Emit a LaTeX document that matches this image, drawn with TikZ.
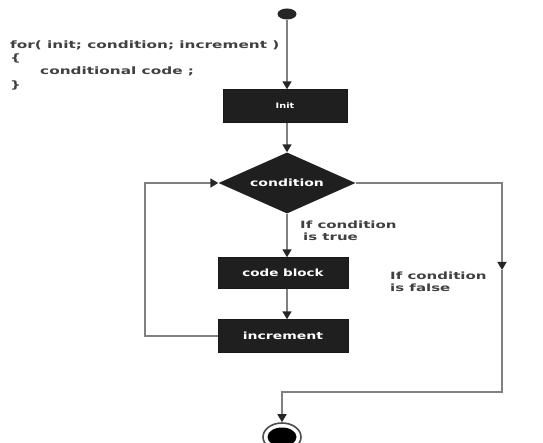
\documentclass[tikz,border=0pt]{standalone}
\usepackage{fontspec}
\setmainfont{DejaVu Sans}
\usetikzlibrary{shapes.geometric,arrows.meta}
\newcommand\wtxt[2][1.45]{\scalebox{#1}[1]{#2}}
\begin{document}
\begin{tikzpicture}[x=1pt,y=-1pt,
  box/.style={draw=black!90,fill=black!88,text=white,font=\bfseries\fontsize{10}{11}\selectfont,inner sep=0pt},
  conn/.style={draw=black!50,line width=1.6pt},
  arr/.style={conn,-{Triangle[length=8pt,width=9pt,fill=black!85,color=black!85]}},
  lbl/.style={font=\bfseries\fontsize{10}{11}\selectfont,text=black!75,anchor=north west,inner sep=0pt},
  code/.style={font=\bfseries\fontsize{10.2}{11}\selectfont,text=black!75,anchor=west,inner sep=0pt}]
\useasboundingbox (0,0) rectangle (543,443);
% code text
\node[code] (c1) at (10,45) {\wtxt[1.5]{for( init; condition; increment )}};
\node[code] (c2) at (10,58) {\wtxt[1.5]{\{}};
\node[code] (c3) at (40,71) {\wtxt[1.5]{conditional code ;}};
\node[code] (c4) at (10,85) {\wtxt[1.5]{\}}};
% nodes
\node[ellipse,fill=black!85,minimum width=19pt,minimum height=11pt,inner sep=0pt] (start) at (287,14) {};
\node[box,minimum width=124pt,minimum height=33pt,font=\bfseries\fontsize{7.5}{9}\selectfont] (init) at (285,106) {\wtxt[1.3]{Init}};
\node[diamond,fill=black!88,text=white,font=\bfseries\fontsize{10}{11}\selectfont,minimum width=137pt,minimum height=61pt,inner sep=0pt,aspect=2.2] (cond) at (287,183) {\wtxt[1.4]{condition}};
\node[box,minimum width=130pt,minimum height=31pt] (code) at (283,273) {\wtxt[1.35]{code block}};
\node[box,minimum width=130pt,minimum height=33pt] (inc) at (283,336) {\wtxt[1.4]{increment}};
\node[ellipse,draw=black!70,line width=1.6pt,fill=white,minimum width=38pt,minimum height=28pt,inner sep=0pt] (stop) at (282,437) {};
\node[ellipse,fill=black,minimum width=29pt,minimum height=19pt,inner sep=0pt] (stopin) at (282,437) {};
% labels
\node[lbl] (t1) at (300,221) {\wtxt[1.5]{If condition}};
\node[lbl] (t1b) at (303,233) {\wtxt[1.5]{is true}};
\node[lbl] (t2) at (390,272) {\wtxt[1.5]{If condition}};
\node[lbl] (t2b) at (390,284) {\wtxt[1.5]{is false}};
% connectors
\draw[arr] (start) -- (start |- init.north);
\draw[arr] (init.south -| cond.north) -- (cond.north);
\draw[arr] (cond.south) -- (cond.south |- code.north);
\draw[arr] (code.south -| cond.south) -- (cond.south |- inc.north);
\coordinate (l1) at (145,336);
\coordinate (l2) at (145,183);
\draw[arr] (inc.west) -- (l1) -- (l2) -- (cond.west);
\coordinate (r1) at (502,183);
\coordinate (r2) at (502,270);
\coordinate (r3) at (502,392);
\coordinate (r4) at (282,392);
\draw[arr] (cond.east) -- (r1) -- (r2);
\draw[arr] (r2) -- (r3) -- (r4) -- (stop.north);
\end{tikzpicture}
\end{document}
